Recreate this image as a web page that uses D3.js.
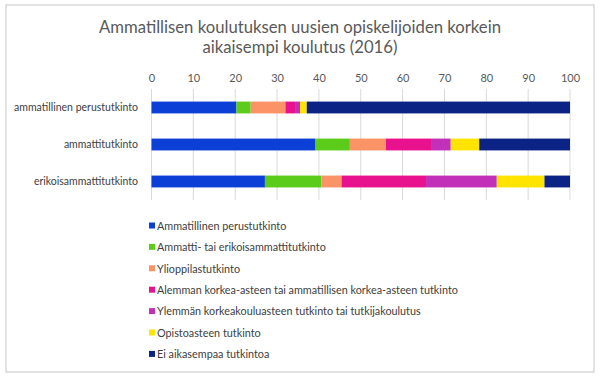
<!DOCTYPE html>
<html>
<head>
<meta charset="utf-8">
<script src="https://cdn.jsdelivr.net/npm/d3@7"></script>
<style>
  body { margin: 0; background: #fff; }
  text { font-family: Lato, "Open Sans", sans-serif; fill: #404040; }
</style>
</head>
<body>
<div id="chart"></div>
<script>
const categories = ["ammatillinen perustutkinto", "ammattitutkinto", "erikoisammattitutkinto"];
const seriesNames = [
    "Ammatillinen perustutkinto",
    "Ammatti- tai erikoisammattitutkinto",
    "Ylioppilastutkinto",
    "Alemman korkea-asteen tai ammatillisen korkea-asteen tutkinto",
    "Ylemmän korkeakouluasteen tutkinto tai tutkijakoulutus",
    "Opistoasteen tutkinto",
    "Ei aikasempaa tutkintoa"
];
// one array per category, in seriesNames order
const perustutkinto = [20.3, 3.4, 8.3, 2.3, 1.2, 1.6, 62.9];
const ammattitutkinto = [39.2, 8.2, 8.6, 11.0, 4.5, 6.8, 21.7];
const erikoisammattitutkinto = [27.1, 13.5, 4.8, 20.2, 16.9, 11.4, 6.1];
const tickValues = [0, 10, 20, 30, 40, 50, 60, 70, 80, 90, 100];
const colors = ["#0b3fd6", "#5ccc1a", "#fa9366", "#e8128f", "#c22fb8", "#ffe400", "#0a2384"];

const rows = [perustutkinto, ammattitutkinto, erikoisammattitutkinto].map((vals, i) => {
    const r = { name: categories[i] };
    seriesNames.forEach((s, j) => r[s] = vals[j]);
    return r;
});

const width = 600, height = 380;
const svg = d3.select("#chart").append("svg")
    .attr("width", width)
    .attr("height", height);

// outer frame
svg.append("rect")
    .attr("x", 6).attr("y", 5)
    .attr("width", 588).attr("height", 367)
    .attr("fill", "#fff")
    .attr("stroke", "#d9d9d9")
    .attr("stroke-width", 1.5);

svg.append("text")
    .attr("x", 300).attr("y", 33)
    .attr("text-anchor", "middle")
    .style("font-size", "16.7px")
    .style("fill", "#595959")
    .selectAll("tspan")
    .data(["Ammatillisen koulutuksen uusien opiskelijoiden korkein", "aikaisempi koulutus (2016)"])
    .enter().append("tspan")
    .attr("x", 300)
    .attr("dy", (d, i) => i ? 20 : 0)
    .text(d => d);

const x = d3.scaleLinear().domain([0, 100]).range([151.5, 570]);
const y = d3.scaleBand().domain(categories).range([89, 200]).paddingInner(0.68).paddingOuter(0.34);

// grid
svg.append("g")
    .selectAll("line")
    .data(tickValues)
    .enter().append("line")
    .attr("x1", d => x(d)).attr("x2", d => x(d))
    .attr("y1", 89).attr("y2", 200)
    .attr("stroke", "#d9d9d9");

// top axis labels
const xAxis = svg.append("g")
    .attr("transform", "translate(0,82)")
    .call(d3.axisTop(x).tickValues(tickValues).tickSize(0).tickPadding(0));
xAxis.select(".domain").remove();
xAxis.selectAll("text").style("font-size", "11px").style("fill", "#595959").style("font-family", "Lato, sans-serif");

// category labels
svg.append("g")
    .selectAll("text")
    .data(categories)
    .enter().append("text")
    .attr("x", 138)
    .attr("y", d => y(d) + y.bandwidth() / 2)
    .attr("dy", "0.35em")
    .attr("text-anchor", "end")
    .style("font-size", "10.5px")
    .text(d => d);

const stack = d3.stack().keys(seriesNames)(rows);

svg.append("g")
    .selectAll("g")
    .data(stack)
    .enter().append("g")
    .attr("fill", (d, i) => colors[i])
    .selectAll("rect")
    .data(d => d)
    .enter().append("rect")
    .attr("x", d => x(d[0]))
    .attr("width", d => x(d[1]) - x(d[0]))
    .attr("y", d => y(d.data.name))
    .attr("height", y.bandwidth());

// legend
const legend = svg.append("g")
    .selectAll("g")
    .data(seriesNames)
    .enter().append("g")
    .attr("transform", (d, i) => `translate(149,${226 + i * 21.4})`);

legend.append("rect")
    .attr("x", 0).attr("y", -3.5)
    .attr("width", 6).attr("height", 6)
    .attr("fill", (d, i) => colors[i]);

legend.append("text")
    .attr("x", 8)
    .attr("dy", "0.35em")
    .style("font-size", "10.8px")
    .text(d => d);
</script>
</body>
</html>
